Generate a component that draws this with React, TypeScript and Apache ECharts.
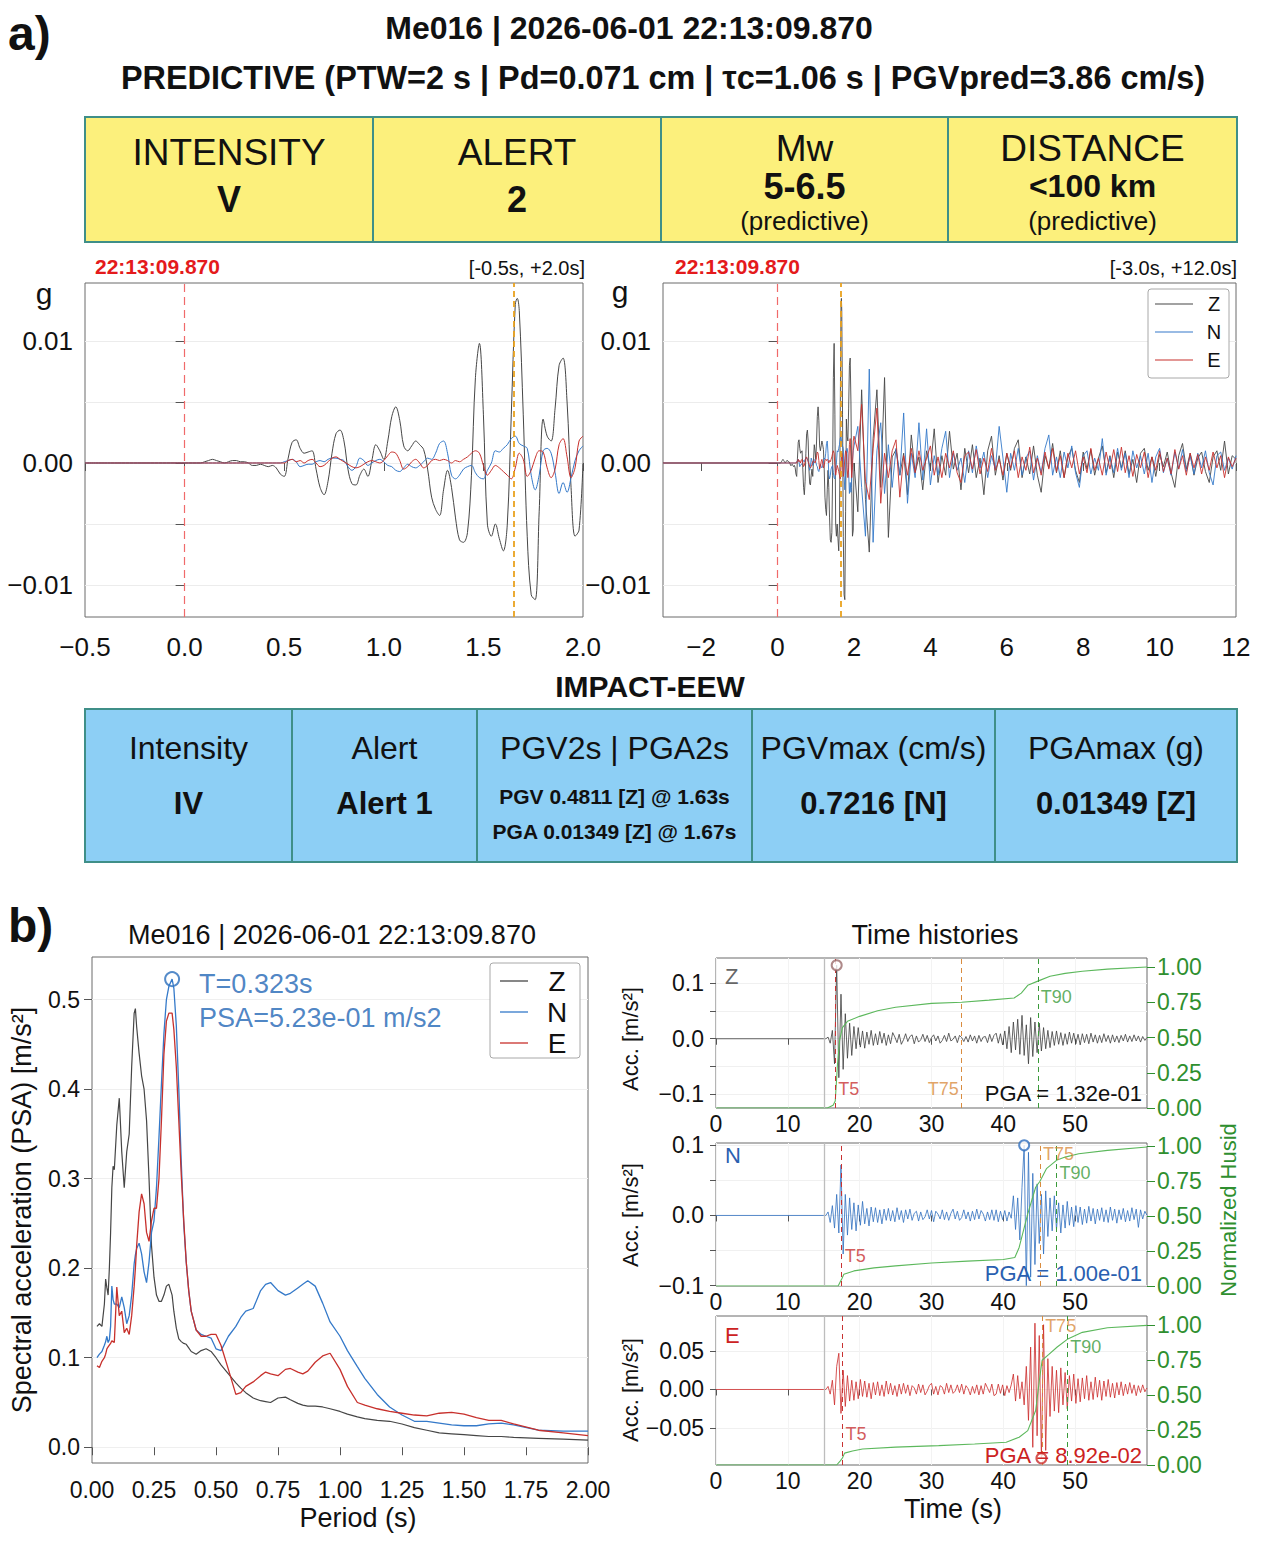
import React, { useEffect, useRef } from 'react';
import * as echarts from 'echarts';

// ---------------- Page / fonts ----------------
const W = 1263;
const H = 1542;
const FONT = '"Liberation Sans", Arial, Helvetica, sans-serif';

// ---------------- Part a: event header ----------------
const STATION = 'Me016';
const ORIGIN = '2026-06-01 22:13:09.870';
const PICK_LABEL = '22:13:09.870';
const PRED_LINE = 'PREDICTIVE (PTW=2 s | Pd=0.071 cm | \u03c4c=1.06 s | PGVpred=3.86 cm/s)';
const WIN_SHORT = '[-0.5s, +2.0s]';
const WIN_LONG = '[-3.0s, +12.0s]';

const PRED_HEADERS = ['INTENSITY', 'ALERT', 'Mw', 'DISTANCE'];
const PRED_VALUES = ['V', '2', '5-6.5', '<100 km'];
const PRED_NOTES = ['', '', '(predictive)', '(predictive)'];

const IMPACT_TITLE = 'IMPACT-EEW';
const IMPACT_HEADERS = ['Intensity', 'Alert', 'PGV2s | PGA2s', 'PGVmax (cm/s)', 'PGAmax (g)'];
const IMPACT_VALUES = ['IV', 'Alert 1', '', '0.7216 [N]', '0.01349 [Z]'];
const PGV_2S = 'PGV 0.4811 [Z] @ 1.63s';
const PGA_2S = 'PGA 0.01349 [Z] @ 1.67s';

// ---------------- Part a: acceleration traces (units of 1e-4 g) ----------------
// first 2 s after the pick, sampled every 0.02 s
const WAVE_DT = 0.02;
const WAVE_UNIT = 1e-4;
const WAVE_Z = [
  0, 0, 0, 0, 0, 1, 2, 3, 2, 1,
  0, 1, 2, 2, 1, 1, 0, -2, -2, -1,
  -2, -3, -2, -4, -9, -11, 4, 17, 19, 12,
  8, 9, 10, -5, -20, -26, -15, 8, 24, 27,
  18, -5, -17, -18, -10, -5, -11, 2, 15, 10,
  3, 18, 38, 46, 35, 14, 10, 14, 18, 15,
  11, -5, -28, -38, -43, -22, -6, -20, -45, -63,
  -65, -57, -10, 70, 98, 40, -50, -60, -50, -62,
  -72, -50, 40, 130, 125, 40, -60, -108, -112, -40,
  36, 22, 18, 45, 80, 86, 50, -20, -60, -55,
  0,
];
const WAVE_N = [
  0, 0, 0, 0, 0, 0, 0, 0, 0, 0,
  0, 0, 0, 0, 0, 0, 0, 0, 0, 0,
  0, 0, 0, 0, 0, 1, 2, 3, 1, -3,
  -2, -1, -1, 1, 2, 1, 3, 4, 4, 3,
  2, -3, -6, -3, 4, 2, -2, 0, 2, 3,
  1, -2, -3, -6, -7, -4, -1, -3, -4, -2,
  1, 4, 3, 8, 16, 18, 8, -10, -13, -10,
  -5, -3, -2, -8, -12, -13, -6, 0, 10, 9,
  12, 15, 20, 22, 16, 14, 12, -10, -22, -10,
  10, 12, 8, -8, -25, -16, -24, -12, 2, 10,
  14,
];
const WAVE_E = [
  0, 0, 0, 0, 0, 0, 0, 0, 0, 0,
  0, 0, 0, 0, 0, 0, 0, 0, 0, 0,
  0, 0, 0, 0, 0, 0, 2, 3, 1, 2,
  0, 2, 3, 0, -3, -2, 1, 4, 5, 3,
  1, -1, -3, -4, -3, -1, 1, 2, 1, 0,
  2, 6, 9, 8, 2, -5, -3, 1, 3, 0,
  -4, -2, 2, 3, 2, 3, 2, 0, 2, 1,
  3, 5, 8, 10, 8, -2, -10, -6, -2, -4,
  -7, -10, -13, -4, 8, 3, -11, -6, 4, 10,
  9, -4, -12, -5, 15, 20, 5, -12, -4, 18,
  22,
];
// 2.1 s .. 12.0 s, sampled every 0.1 s
const TAIL_T0 = 2.1;
const TAIL_DT = 0.1;
const TAIL_Z = [
  -40, 60, -30, -73, 20, 60, -20, 70, -61, 5,
  11, -10, 8, -26, 23, -8, 5, -22, 10, -5,
  28, -16, 6, -10, 26, -5, 8, -22, 12, -8,
  15, -12, 4, -26, 10, 22, -10, 6, -14, 8,
  -6, 12, 19, -12, 5, -9, 14, -10, -24, 6,
  -4, 16, -8, 10, -12, 5, 12, -6, -16, 9,
  -5, 11, -10, 4, 14, -8, 6, -12, 9, -4,
  10, -9, 3, -16, 8, 12, -6, 5, -11, 7,
  -3, 9, -8, -20, 6, 16, -5, 8, -10, 4,
  9, -7, -16, 5, 10, -6, 18, -9, 6, 3,
];
const TAIL_N = [
  30, -20, -60, 77, -65, 10, 33, -25, 15, -20,
  12, -10, 41, -33, 8, -12, 33, -14, 28, -18,
  6, -10, 12, 26, -12, 8, -6, 4, -16, 10,
  -8, 14, -4, 9, -12, 6, -5, 30, 4, -24,
  8, -6, 12, -10, 4, 10, -14, 6, -8, 12,
  23, -10, 5, -12, 9, -4, 14, -8, -20, 6,
  10, -9, 4, -6, 20, -10, 5, -8, 12, -6,
  8, -12, 10, -4, 6, -9, 8, -16, 5, 12,
  -8, 4, -10, 9, -5, 11, -7, 6, -9, 8,
  -4, 10, -8, -18, 6, 9, -6, 4, -5, 6,
];
const TAIL_E = [
  10, 48, -15, -30, 12, 45, -33, 8, -12, 10,
  19, -28, 6, -10, 12, -8, 10, -6, 4, 14,
  -10, 5, -12, 8, -4, 10, -8, -16, 6, 9,
  -5, 11, -9, 4, -7, 12, -6, 3, -10, 8,
  -4, 10, -12, 5, -6, 13, -8, 4, -10, 9,
  -5, 12, -7, 6, -12, 8, -4, 10, -9, 5,
  -8, 12, -6, 4, -10, 9, -5, 11, -7, 13,
  -8, 6, -11, 7, -4, 9, -12, 5, -6, 10,
  -7, 4, -9, 11, -5, 6, -10, 8, -4, 7,
  -9, 5, -6, 9, -4, 6, -12, 5, -3, 4,
];
const PEAK_2S = { t: 1.67, g: 0.01349 }; // PGA within the 2 s window [Z]
const PICK_T = 0;
const WINDOW_END_T = 1.65;

// ---------------- Part b: response spectra (m/s2) ----------------
const PSA_T = [
  0.02, 0.03, 0.04, 0.05, 0.055, 0.06, 0.065, 0.07, 0.075, 0.08, 0.085, 0.09,
  0.1, 0.11, 0.12, 0.13, 0.14, 0.15, 0.16, 0.17, 0.175, 0.18, 0.19, 0.2,
  0.21, 0.22, 0.23, 0.24, 0.25, 0.26, 0.27, 0.28, 0.29, 0.3, 0.31, 0.323,
  0.33, 0.34, 0.35, 0.36, 0.37, 0.38, 0.39, 0.4, 0.42, 0.44, 0.46, 0.48, 0.5,
  0.52, 0.55, 0.58, 0.6, 0.62, 0.65, 0.68, 0.7, 0.72, 0.75,
  0.78, 0.8, 0.83, 0.85, 0.87, 0.9, 0.93, 0.96, 1.0,
  1.03, 1.07, 1.1, 1.15, 1.2, 1.25, 1.3, 1.35, 1.4, 1.45, 1.5,
  1.55, 1.6, 1.65, 1.7, 1.8, 1.9, 2.0,
];
const PSA_Z = [
  0.135, 0.138, 0.135, 0.16, 0.188, 0.178, 0.17, 0.2, 0.24, 0.29, 0.314, 0.31,
  0.36, 0.39, 0.33, 0.29, 0.33, 0.35, 0.425, 0.485, 0.49, 0.47, 0.44, 0.415,
  0.4, 0.365, 0.3, 0.225, 0.19, 0.17, 0.163, 0.163, 0.17, 0.18, 0.182, 0.17,
  0.152, 0.133, 0.121, 0.118, 0.116, 0.115, 0.111, 0.107, 0.104, 0.108, 0.11, 0.107, 0.1,
  0.092, 0.082, 0.072, 0.066, 0.061, 0.055, 0.052, 0.051, 0.05, 0.055,
  0.056, 0.053, 0.049, 0.047, 0.046, 0.046, 0.045, 0.043, 0.04,
  0.037, 0.034, 0.032, 0.03, 0.029, 0.026, 0.022, 0.019, 0.016, 0.015, 0.014,
  0.013, 0.012, 0.012, 0.011, 0.01, 0.009, 0.008,
];
const PSA_N = [
  0.1, 0.104, 0.107, 0.114, 0.118, 0.124, 0.117, 0.12, 0.135, 0.18, 0.165, 0.16,
  0.16, 0.156, 0.168, 0.156, 0.138, 0.147, 0.17, 0.205, 0.215, 0.222, 0.228, 0.216,
  0.196, 0.184, 0.207, 0.24, 0.253, 0.29, 0.346, 0.406, 0.462, 0.5, 0.515, 0.523,
  0.513, 0.471, 0.4, 0.318, 0.249, 0.207, 0.175, 0.152, 0.131, 0.126, 0.124, 0.122, 0.11,
  0.108, 0.124, 0.135, 0.145, 0.152, 0.155, 0.175, 0.182, 0.184, 0.175,
  0.17, 0.172, 0.178, 0.182, 0.186, 0.18, 0.161, 0.14, 0.124,
  0.108, 0.09, 0.077, 0.059, 0.045, 0.036, 0.029, 0.029, 0.027, 0.025, 0.024,
  0.024, 0.026, 0.027, 0.025, 0.019, 0.018, 0.018,
];
const PSA_E = [
  0.091, 0.089, 0.096, 0.1, 0.104, 0.11, 0.112, 0.114, 0.116, 0.119, 0.118, 0.117,
  0.179, 0.147, 0.152, 0.128, 0.133, 0.126, 0.147, 0.18, 0.2, 0.225, 0.263, 0.283,
  0.272, 0.24, 0.23, 0.253, 0.267, 0.267, 0.3, 0.365, 0.439, 0.476, 0.485, 0.485,
  0.467, 0.425, 0.365, 0.304, 0.253, 0.207, 0.175, 0.152, 0.131, 0.124, 0.124, 0.126, 0.126,
  0.114, 0.087, 0.059, 0.061, 0.068, 0.073, 0.08, 0.084, 0.082, 0.08,
  0.087, 0.088, 0.084, 0.082, 0.085, 0.095, 0.102, 0.105, 0.087,
  0.068, 0.05, 0.047, 0.043, 0.04, 0.038, 0.036, 0.035, 0.038, 0.039, 0.037,
  0.033, 0.03, 0.03, 0.026, 0.019, 0.016, 0.013,
];
const PSA_PEAK = { T: 0.323, psa: 0.523 };

// ---------------- Part b: time histories (units of 1e-3 m/s2) ----------------
// 15.0 s .. 60.0 s, sampled every 0.3 s; the record is flat before 15 s
const TH_T0 = 15.0;
const TH_DT = 0.3;
const TH_UNIT = 1e-3;
const TH_Z = [
  0, 0, 3, -8, 15, -45, 132, -70, 80, -55,
  45, -35, 28, -30, 22, -18, 20, -15, 14, -17,
  12, -10, 15, -12, 9, -11, 13, -8, 10, -12,
  7, -9, 11, 3, -7, 8, -10, -2, 9, -5,
  4, 7, -9, 5, -6, -2, 8, -5, 6, -7,
  2, 7, -4, 5, -8, -3, 6, -5, 10, -4,
  -1, 5, -7, 6, 2, -5, 4, -6, 7, -4,
  5, -8, 6, -5, 3, 4, -7, 8, -5, 6,
  10, -8, 9, -11, 14, -18, 22, -25, 30, -20,
  35, -28, 42, -30, 25, -45, 38, -32, 30, -25,
  28, -22, 20, -18, 15, -16, 13, -12, 14, -10,
  11, -12, 9, -10, 12, -8, 10, -9, 8, -11,
  9, -7, 8, -9, 10, -6, 7, -8, 6, -7,
  9, -5, 6, -8, 7, -6, 5, -7, 6, -4,
  8, -6, 5, -5, 7, -4, 5, -6, 4, -3,
  2,
];
const TH_N = [
  0, 0, 5, -10, 14, -18, 30, -25, 72, -55,
  30, -28, 25, -20, 18, -22, 15, -14, 20, -12,
  10, -15, 12, -9, 11, -10, 8, -12, 9, -7,
  10, -8, 7, -9, 11, -6, 7, -10, 8, -5,
  9, -7, 3, 6, -8, 5, -6, -2, 8, -5,
  7, -9, 6, 2, -5, 8, -6, 5, -7, 3,
  9, -5, 6, -7, -3, 8, -5, 5, -8, 6,
  -6, 9, -5, 7, 2, -8, 5, -6, 8, -7,
  8, -9, 6, -6, 7, -8, 5, -4, 28, -20,
  25, -35, 40, 100, -100, 90, -88, 60, -70, 45,
  -40, 30, -55, 35, -30, 25, -22, 28, -20, 18,
  -25, 15, -18, 20, -14, 12, -16, 14, -10, 12,
  -13, 9, -11, 13, -8, 10, -12, 9, -7, 11,
  -9, 8, -10, 12, -7, 9, -11, 8, -6, 10,
  -9, 7, -8, 11, -6, 9, -17, 8, -5, 6,
  0,
];
const TH_E = [
  0, 0, 4, -6, 12, -20, 30, 47, -31, 25,
  -22, 18, -15, 12, -14, 10, -12, 13, -9, 11,
  -10, 8, -12, 9, -7, 10, -8, 6, -9, 11,
  -6, 8, -7, 5, -9, 7, -6, 8, -5, 6,
  -8, 5, 2, -6, 7, -4, 6, -7, -2, 5,
  8, -6, 4, -7, 5, 3, -6, 8, -4, 6,
  -5, -2, 6, -4, 7, -6, 5, 1, -7, 4,
  -5, 6, -7, 5, -6, 8, 2, -4, 7, -8,
  -6, 7, -5, 6, -8, 5, -4, 6, 20, -15,
  18, -12, 10, -20, 30, -40, 55, -75, 86, -60,
  70, -89.2, 84, -79, 40, -35, 30, -28, 25, -30,
  28, -20, 22, -25, 18, -15, 20, -18, 14, -16,
  15, -12, 18, -14, 10, -13, 16, -10, 12, -14,
  11, -9, 13, -10, 8, -11, 9, -7, 10, -8,
  7, -6, 9, -5, 6, -8, 5, -4, 6, -3,
  2,
];
// Normalized Arias (Husid) curves: [time s, fraction]
const HUSID_Z = [
  [0, 0], [15.5, 0], [16.3, 0.02], [16.6, 0.05], [16.9, 0.3], [17.2, 0.48], [17.6, 0.57],
  [18.3, 0.615], [20, 0.65], [22.5, 0.69], [25, 0.715], [30, 0.742], [34.2, 0.75], [38, 0.765],
  [41.5, 0.78], [42.5, 0.815], [43.4, 0.87], [44.8, 0.9], [46.5, 0.935], [48.6, 0.955],
  [51, 0.97], [54.5, 0.985], [60, 1.0],
];
const HUSID_N = [
  [0, 0], [17.0, 0], [17.3, 0.03], [17.5, 0.05], [17.8, 0.084], [19.2, 0.108], [22, 0.13],
  [25, 0.144], [30, 0.165], [35, 0.178], [40, 0.19], [41.6, 0.204], [42.2, 0.276], [42.8, 0.396],
  [43.4, 0.516], [44.5, 0.707], [45.1, 0.75], [46, 0.84], [47.4, 0.9], [48.6, 0.923],
  [50.5, 0.947], [54.5, 0.971], [60, 0.995],
];
const HUSID_E = [
  [0, 0], [16.8, 0], [17.3, 0.03], [17.6, 0.05], [17.9, 0.085], [19, 0.1], [20.4, 0.115],
  [25, 0.128], [31, 0.139], [36, 0.15], [40.4, 0.163], [42.2, 0.199], [43.4, 0.246],
  [44.5, 0.39], [45.0, 0.6], [45.4, 0.75], [46.3, 0.79], [47.5, 0.845], [48.9, 0.9],
  [51, 0.95], [54.5, 0.983], [60, 1.0],
];
const TH_ONSET = 15.0;
const T_MARKS = {
  Z: { t5: 16.6, t75: 34.2, t90: 44.8 },
  N: { t5: 17.5, t75: 45.1, t90: 47.4 },
  E: { t5: 17.6, t75: 45.4, t90: 48.9 },
};
const PGA_TH = {
  Z: { t: 16.8, a: 0.132 },
  N: { t: 42.9, a: 0.1 },
  E: { t: 45.3, a: -0.0892 },
};

// ---------------- styling ----------------
const C_Z = '#464646';
const C_N = '#3479c9';
const C_E = '#c7302c';
const C_TH = { Z: '#3c3c3c', N: '#2f6fbf', E: '#cc2a2a' };
const C_TXT = { Z: '#666666', N: '#2a5fb0', E: '#cc2222' };
const C_GREEN = '#2f8f2f';
const C_HUSID = '#5cb85c';
const C_T5 = '#c83232';
const C_T75 = '#d98c3f';
const C_T90 = '#3a9a3a';
const C_YELLOW = '#fcf07c';
const C_BLUE = '#8dcff5';
const C_CELL = '#3f8f88';

const fmt = (d: number) => (v: number) => (v < 0 ? '\u2212' : '') + Math.abs(v).toFixed(d);
const sci = (v: number) => {
  const [m, e] = Math.abs(v).toExponential(2).split('e');
  const n = parseInt(e, 10);
  return `${v < 0 ? '-' : ''}${m}e${n < 0 ? '-' : '+'}${String(Math.abs(n)).padStart(2, '0')}`;
};

function waveData(head: number[], tail: number[] | null, start: number) {
  const pts: number[][] = [[start, 0]];
  head.forEach((v, i) => pts.push([+(i * WAVE_DT).toFixed(3), v * WAVE_UNIT]));
  if (tail) tail.forEach((v, i) => pts.push([+(TAIL_T0 + i * TAIL_DT).toFixed(2), v * WAVE_UNIT]));
  return pts;
}
function withPeak(pts: number[][]) {
  const out = pts.concat([[PEAK_2S.t, PEAK_2S.g]]);
  out.sort((a, b) => a[0] - b[0]);
  return out;
}
function thData(arr: number[]) {
  const pts: number[][] = [[0, 0]];
  arr.forEach((v, i) => pts.push([+(TH_T0 + i * TH_DT).toFixed(2), v * TH_UNIT]));
  return pts;
}

// ---------------- layout ----------------
const GRIDS = [
  { left: 85, top: 283, width: 498, height: 334 }, // a) 2 s window
  { left: 663, top: 283, width: 573, height: 334 }, // a) 15 s window
  { left: 92, top: 957, width: 496, height: 506 }, // b) spectra
  { left: 716, top: 958, width: 431, height: 150 }, // b) Z
  { left: 716, top: 1143, width: 431, height: 143 }, // b) N
  { left: 716, top: 1316, width: 431, height: 149 }, // b) E
];

function axisBase(gridIndex: number, min: number, max: number, o: any) {
  return {
    type: 'value',
    gridIndex,
    min,
    max,
    ...(o.interval ? { interval: o.interval } : {}),
    position: o.position,
    axisLine: { show: false },
    axisTick: {
      show: true,
      inside: false,
      length: o.tickLen ?? 8,
      ...(o.ticks ? { customValues: o.ticks } : {}),
      lineStyle: { color: o.tickColor ?? '#555', width: 1 },
    },
    axisLabel: {
      ...(o.labels ? { customValues: o.labels } : {}),
      formatter: o.formatter,
      fontSize: o.fontSize,
      color: o.color ?? '#111',
      margin: o.margin,
      fontFamily: FONT,
    },
    splitLine: { show: !!o.split, lineStyle: { color: o.splitColor ?? '#ececec', width: 1 } },
  };
}

function buildOption() {
  const grid = GRIDS.map((g) => ({
    ...g,
    show: true,
    borderColor: '#6a6a6a',
    borderWidth: 1,
    backgroundColor: 'rgba(0,0,0,0)',
    containLabel: false,
    outerBoundsMode: 'none',
  }));

  const thTicksX = [0, 10, 20, 30, 40, 50];
  const xAxis = [
    axisBase(0, -0.5, 2, { interval: 0.5, formatter: fmt(1), fontSize: 26, margin: 17 }),
    axisBase(1, -3, 12, { ticks: [-2, 0, 2, 4, 6, 8, 10, 12], labels: [-2, 0, 2, 4, 6, 8, 10, 12], formatter: fmt(0), fontSize: 26, margin: 17 }),
    axisBase(2, 0, 2, { interval: 0.25, formatter: fmt(2), fontSize: 23, margin: 15 }),
    ...[3, 4, 5].map((gi) =>
      axisBase(gi, 0, 60, { ticks: thTicksX, labels: thTicksX, formatter: fmt(0), fontSize: 23, margin: 4, tickLen: 6, split: true, splitColor: '#f3f3f3' })
    ),
  ];

  const waveY = (gi: number) =>
    axisBase(gi, -0.01262, 0.01475, {
      ticks: [-0.01, -0.005, 0, 0.005, 0.01],
      labels: [-0.01, 0, 0.01],
      formatter: fmt(2),
      fontSize: 26,
      margin: 12,
      tickLen: 9,
      split: true,
    });
  const husidY = (gi: number, max: number) =>
    axisBase(gi, 0, max, {
      position: 'right',
      ticks: [0, 0.25, 0.5, 0.75, 1],
      labels: [0, 0.25, 0.5, 0.75, 1],
      formatter: fmt(2),
      fontSize: 23,
      margin: 10,
      tickLen: 8,
      color: C_GREEN,
      tickColor: C_GREEN,
    });
  const yAxis = [
    waveY(0),
    waveY(1),
    axisBase(2, -0.0176, 0.5477, { ticks: [0, 0.1, 0.2, 0.3, 0.4, 0.5], labels: [0, 0.1, 0.2, 0.3, 0.4, 0.5], formatter: fmt(1), fontSize: 23, margin: 12, tickLen: 8, split: true, splitColor: '#efefef' }),
    axisBase(3, -0.1244, 0.145, { ticks: [-0.1, -0.05, 0, 0.05, 0.1], labels: [-0.1, 0, 0.1], formatter: fmt(1), fontSize: 23, margin: 12, tickLen: 6, split: true, splitColor: '#f0f0f0' }),
    axisBase(4, -0.1006, 0.1033, { ticks: [-0.1, -0.05, 0, 0.05, 0.1], labels: [-0.1, 0, 0.1], formatter: fmt(1), fontSize: 23, margin: 12, tickLen: 6, split: true, splitColor: '#f0f0f0' }),
    axisBase(5, -0.0979, 0.0953, { ticks: [-0.05, 0, 0.05], labels: [-0.05, 0, 0.05], formatter: fmt(2), fontSize: 23, margin: 12, tickLen: 6, split: true, splitColor: '#f0f0f0' }),
    husidY(3, 1.064),
    husidY(4, 1.024),
    husidY(5, 1.067),
  ];

  const line = (name: string, data: any, xi: number, yi: number, color: string, width: number, extra: any = {}) => ({
    type: 'line',
    name,
    data,
    xAxisIndex: xi,
    yAxisIndex: yi,
    symbol: 'none',
    showSymbol: false,
    silent: true,
    clip: true,
    lineStyle: { color, width },
    itemStyle: { color },
    ...extra,
  });
  const vmark = (x: number, color: string, type: any, width = 1.2) => ({ xAxis: x, lineStyle: { color, type, width } });
  const markLine = (data: any[]) => ({ silent: true, symbol: ['none', 'none'], label: { show: false }, animation: false, data });

  const waveMarks = markLine([vmark(PICK_T, '#f06a6a', [8, 5], 1.2), vmark(WINDOW_END_T, '#e9a21f', [6, 4], 1.8)]);
  const smooth = { smooth: 0.35 };

  const series: any[] = [
    line('Z', withPeak(waveData(WAVE_Z, null, -0.5)), 0, 0, C_Z, 1, { markLine: waveMarks, ...smooth }),
    line('N', waveData(WAVE_N, null, -0.5), 0, 0, C_N, 1, smooth),
    line('E', waveData(WAVE_E, null, -0.5), 0, 0, C_E, 1, smooth),
    line('Z', withPeak(waveData(WAVE_Z, TAIL_Z, -3)), 1, 1, C_Z, 0.9, { markLine: waveMarks }),
    line('N', waveData(WAVE_N, TAIL_N, -3), 1, 1, C_N, 0.9),
    line('E', waveData(WAVE_E, TAIL_E, -3), 1, 1, C_E, 0.9),
    line('Z', PSA_T.map((t, i) => [t, PSA_Z[i]]), 2, 2, C_Z, 1.2),
    line('N', PSA_T.map((t, i) => [t, PSA_N[i]]), 2, 2, C_N, 1.3),
    line('E', PSA_T.map((t, i) => [t, PSA_E[i]]), 2, 2, C_E, 1.3),
    {
      type: 'scatter',
      xAxisIndex: 2,
      yAxisIndex: 2,
      silent: true,
      symbol: 'emptyCircle',
      symbolSize: 14,
      itemStyle: { color: '#2a6ebb', borderWidth: 1.5 },
      data: [[PSA_PEAK.T, PSA_PEAK.psa]],
      label: {
        show: true,
        position: 'right',
        distance: 19,
        offset: [0, 22],
        align: 'left',
        formatter: () => `T=${PSA_PEAK.T.toFixed(3)}s\nPSA=${sci(PSA_PEAK.psa)} m/s2`,
        color: '#1f66b5',
        fontSize: 27,
        lineHeight: 34,
        fontFamily: FONT,
      },
    },
  ];

  const comps: Array<{ key: 'Z' | 'N' | 'E'; acc: number[]; husid: number[][]; lab: any }> = [
    { key: 'Z', acc: TH_Z, husid: HUSID_Z, lab: { t5: [-0.09, 'right'], t75: [-0.09, 'left'], t90: [0.075, 'right'] } },
    { key: 'N', acc: TH_N, husid: HUSID_N, lab: { t5: [-0.058, 'right'], t75: [0.088, 'right'], t90: [0.06, 'right'] } },
    { key: 'E', acc: TH_E, husid: HUSID_E, lab: { t5: [-0.058, 'right'], t75: [0.082, 'right'], t90: [0.055, 'right'] } },
  ];
  comps.forEach((c, idx) => {
    const gi = 3 + idx;
    const m = T_MARKS[c.key];
    series.push(
      line('acc ' + c.key, thData(c.acc), gi, gi, C_TH[c.key], 0.8, {
        markLine: markLine([
          vmark(TH_ONSET, '#bdbdbd', 'solid', 1.3),
          vmark(m.t5, C_T5, [5, 4], 1),
          vmark(m.t75, C_T75, [5, 4], 1),
          vmark(m.t90, C_T90, [5, 4], 1),
        ]),
      })
    );
    series.push(line('husid ' + c.key, c.husid, gi, 6 + idx, C_HUSID, 1.1));
    const pga = PGA_TH[c.key];
    series.push({
      type: 'scatter',
      xAxisIndex: gi,
      yAxisIndex: gi,
      silent: true,
      symbol: 'emptyCircle',
      symbolSize: 10,
      itemStyle: { color: c.key === 'Z' ? '#9a6b6b' : C_TH[c.key], borderWidth: 1.2 },
      data: [[pga.t, pga.a]],
      z: 5,
    });
    const tl = (name: string, t: number, spec: any, color: string) => ({
      name,
      value: [t, spec[0]],
      label: { position: spec[1], color },
    });
    series.push({
      type: 'scatter',
      xAxisIndex: gi,
      yAxisIndex: gi,
      silent: true,
      symbolSize: 0.01,
      itemStyle: { color: 'rgba(0,0,0,0)' },
      label: { show: true, formatter: '{b}', fontSize: 18, distance: 3, fontFamily: FONT },
      data: [
        tl('T5', m.t5, c.lab.t5, C_T5),
        tl('T75', m.t75, c.lab.t75, C_T75),
        tl('T90', m.t90, c.lab.t90, C_T90),
      ],
      z: 6,
    });
  });

  // ---------- text / table graphics ----------
  const txt = (text: string, x: number, y: number, size: number, opts: any = {}) => ({
    type: 'text',
    x,
    y,
    rotation: opts.rotation ?? 0,
    z: 100,
    silent: true,
    style: {
      text,
      x: 0,
      y: 0,
      fill: opts.fill ?? '#111',
      font: `${opts.bold ? 'bold ' : ''}${size}px ${FONT}`,
      align: opts.align ?? 'center',
      verticalAlign: opts.v ?? 'middle',
      textAlign: opts.align ?? 'center',
      textVerticalAlign: opts.v ?? 'middle',
    },
  });
  const rect = (x: number, y: number, w: number, h: number, fill: string, stroke: string, lw = 2, r = 0) => ({
    type: 'rect',
    z: 90,
    silent: true,
    shape: { x, y, width: w, height: h, r },
    style: { fill, stroke, lineWidth: lw },
  });
  const seg = (x1: number, y1: number, x2: number, y2: number, stroke: string, lw = 1.2) => ({
    type: 'line',
    z: 101,
    silent: true,
    shape: { x1, y1, x2, y2 },
    style: { stroke, lineWidth: lw },
  });

  const g: any[] = [];
  // header
  g.push(txt('a)', 8, 33, 48, { bold: true, align: 'left' }));
  g.push(txt(`${STATION} | ${ORIGIN}`, 629, 28, 32, { bold: true }));
  g.push(txt(PRED_LINE, 663, 78, 32.4, { bold: true }));

  // predictive table
  const px = [85, 373, 661, 948, 1237];
  const py = 117;
  const ph = 125;
  PRED_HEADERS.forEach((h, i) => {
    g.push(rect(px[i], py, px[i + 1] - px[i], ph, C_YELLOW, C_CELL));
    const cx = (px[i] + px[i + 1]) / 2;
    const hasNote = !!PRED_NOTES[i];
    g.push(txt(h, cx, hasNote ? 148 : 152, 37));
    g.push(txt(PRED_VALUES[i], cx, hasNote ? 186 : 199, i === 3 ? 32 : 36, { bold: true }));
    if (hasNote) g.push(txt(PRED_NOTES[i], cx, 221, 26));
  });

  // waveform panel annotations
  g.push(txt(PICK_LABEL, 95, 266, 21, { bold: true, align: 'left', fill: '#e41a1c' }));
  g.push(txt(WIN_SHORT, 585, 268, 20, { align: 'right' }));
  g.push(txt(PICK_LABEL, 675, 266, 21, { bold: true, align: 'left', fill: '#e41a1c' }));
  g.push(txt(WIN_LONG, 1237, 268, 20, { align: 'right' }));
  g.push(txt('g', 44, 293, 30));
  g.push(txt('g', 620, 291, 30));

  // legend of the 15 s window
  g.push(rect(1148, 289, 81, 89, '#ffffff', '#a8a8a8', 1, 3));
  [['Z', C_Z], ['N', C_N], ['E', C_E]].forEach(([n, c], i) => {
    const y = 304 + i * 28;
    g.push(seg(1155, y, 1193, y, c, 1.2));
    g.push(txt(n, 1214, y, 20));
  });

  // IMPACT-EEW table
  g.push(txt(IMPACT_TITLE, 650, 686, 30, { bold: true }));
  const bx = [85, 292, 477, 752, 995, 1237];
  IMPACT_HEADERS.forEach((h, i) => {
    g.push(rect(bx[i], 709, bx[i + 1] - bx[i], 153, C_BLUE, C_CELL));
    const cx = (bx[i] + bx[i + 1]) / 2;
    g.push(txt(h, cx, 748, 32));
    if (IMPACT_VALUES[i]) g.push(txt(IMPACT_VALUES[i], cx, 803, 31, { bold: true }));
    else {
      g.push(txt(PGV_2S, cx, 796, 21, { bold: true }));
      g.push(txt(PGA_2S, cx, 831, 21, { bold: true }));
    }
  });

  // part b
  g.push(txt('b)', 8, 925, 48, { bold: true, align: 'left' }));
  g.push(txt(`${STATION} | ${ORIGIN}`, 332, 935, 27));
  g.push(txt('Spectral acceleration (PSA) [m/s\u00b2]', 22, 1210, 27, { rotation: Math.PI / 2 }));
  g.push(txt('Period (s)', 358, 1518, 27));
  g.push(rect(490, 963, 90, 95, '#ffffff', '#a8a8a8', 1, 3));
  [['Z', C_Z], ['N', C_N], ['E', C_E]].forEach(([n, c], i) => {
    const y = 981 + i * 31;
    g.push(seg(500, y, 528, y, c, 1.3));
    g.push(txt(n, 557, y, 28));
  });

  g.push(txt('Time histories', 935, 935, 27));
  const thCenters = [1039, 1215, 1390];
  const pgaY = [1093, 1273, 1455];
  const compY = [976, 1155, 1335];
  comps.forEach((c, i) => {
    g.push(txt('Acc. [m/s\u00b2]', 630, thCenters[i], 22, { rotation: Math.PI / 2 }));
    g.push(txt(c.key, 725, compY[i], 22, { align: 'left', fill: C_TXT[c.key] }));
    g.push(txt(`PGA = ${sci(Math.abs(PGA_TH[c.key].a))}`, 1142, pgaY[i], 22, { align: 'right', fill: c.key === 'Z' ? '#111' : C_TXT[c.key] }));
  });
  g.push(txt('Normalized Husid', 1228, 1210, 22, { rotation: Math.PI / 2, fill: C_GREEN }));
  g.push(txt('Time (s)', 953, 1509, 27));

  return {
    animation: false,
    backgroundColor: '#ffffff',
    textStyle: { fontFamily: FONT },
    grid,
    xAxis,
    yAxis,
    series,
    graphic: { elements: g },
  };
}

export default function App() {
  const ref = useRef<HTMLDivElement>(null);
  useEffect(() => {
    if (!ref.current) return;
    const chart = echarts.init(ref.current, null, { renderer: 'svg' });
    chart.setOption(buildOption() as any);
    return () => chart.dispose();
  }, []);
  return (
    <div
      ref={ref}
      style={{ position: 'absolute', left: 0, top: 0, width: W, height: H, background: '#ffffff' }}
    />
  );
}
